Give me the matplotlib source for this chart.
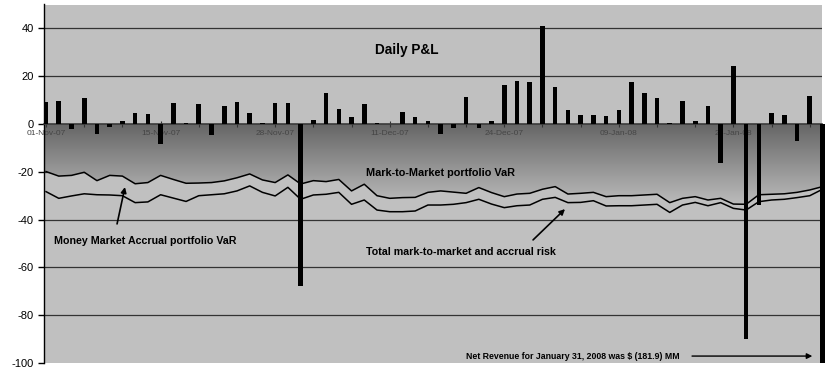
import numpy as np
import matplotlib.pyplot as plt
from matplotlib.patches import Polygon
from matplotlib.transforms import Bbox, TransformedBbox

# daily P&L, $MM, one bar per trading day (01-Nov-07 .. 31-Jan-08)
pnl = [9.1, 9.6, -2.3, 10.8, -4.3, -1.1, 1.1, 4.5, 4.0, -8.5,
       8.8, 0.4, 8.4, -4.7, 7.4, 9.1, 4.5, 0.3, 8.8, 8.8,
       -67.7, 1.7, 12.8, 6.2, 2.8, 8.2, 0.3, 0.2, 5.2, 3.1,
       1.1, -4.0, -1.8, 11.3, -1.8, 1.1, 16.3, 18.2, 17.7, 41.1,
       15.5, 5.7, 3.8, 3.8, 3.4, 5.9, 17.7, 13.0, 10.8, 0.4,
       9.8, 1.1, 7.6, -16.4, 24.3, -90.1, -33.9, 4.5, 3.8, -7.0,
       11.7, -181.9]

# mark-to-market portfolio VaR
mtm_var = [-19.9, -21.8, -21.5, -20.2, -23.7, -21.5, -21.8, -25.0, -24.5, -21.5,
           -23.2, -24.8, -24.7, -24.5, -23.8, -22.5, -20.9, -23.4, -24.5, -21.3,
           -25.1, -23.7, -24.1, -23.2, -28.0, -25.2, -30.0, -31.1, -30.8, -30.7,
           -28.6, -28.0, -28.5, -29.0, -26.6, -28.7, -30.4, -29.3, -29.0, -27.3,
           -26.2, -29.3, -29.0, -28.6, -30.4, -30.0, -30.0, -29.7, -29.4, -32.9,
           -31.1, -30.4, -31.8, -31.1, -33.5, -33.6, -29.6, -29.4, -29.2, -28.6,
           -27.6, -26.2]

# total mark-to-market and accrual risk
total_var = [-28.3, -31.1, -30.1, -29.2, -29.6, -29.7, -30.0, -32.9, -32.6, -29.6,
             -31.0, -32.4, -30.0, -29.6, -29.2, -28.0, -25.9, -28.6, -30.1, -26.5,
             -31.5, -29.7, -29.4, -28.6, -33.6, -31.8, -36.0, -36.7, -36.7, -36.4,
             -33.9, -33.9, -33.6, -32.9, -31.5, -33.5, -35.0, -34.2, -33.9, -31.5,
             -30.7, -32.9, -32.8, -32.1, -34.3, -34.2, -34.2, -33.9, -33.6, -37.0,
             -33.9, -32.8, -34.2, -32.9, -35.3, -36.0, -32.5, -31.8, -31.5, -30.8,
             -30.0, -27.3]

date_labels = ["01-Nov-07", "15-Nov-07", "28-Nov-07", "11-Dec-07",
               "24-Dec-07", "09-Jan-08", "22-Jan-08"]

plt.rcParams['font.family'] = ['Liberation Sans', 'DejaVu Sans']
plt.rcParams['axes.unicode_minus'] = False

fig = plt.figure(figsize=(8.28, 3.69), dpi=100)
ax = fig.add_axes([44 / 828, 6 / 369, 778 / 828, 358.5 / 369])
ax.set_facecolor('#c0c0c0')

x = np.arange(len(pnl))
x0, x1 = -0.16, 60.96

# horizontal gridlines sit under the shaded VaR band
yticks = list(range(-100, 41, 20))
for v in yticks[1:]:
    if v != 0:
        ax.axhline(v, color='#333333', lw=0.9, zorder=0.5)

# shaded band from zero down to the mark-to-market VaR line
verts = [(x0, 0), (x0, mtm_var[0])] + list(zip(x, mtm_var)) + [(x1, mtm_var[-1]), (x1, 0)]
band = Polygon(verts, closed=True, facecolor='none', edgecolor='none')
ax.add_patch(band)
grad = np.linspace(0.40, 0.80, 256).reshape(-1, 1)
img = ax.imshow(grad, cmap='gray', vmin=0, vmax=1, aspect='auto',
                extent=[x0, x1, -40, 0], origin='upper', zorder=1,
                interpolation='bilinear')
img.set_clip_path(band)
ax.set_xlim(x0, x1)
ax.set_ylim(-100, 50)

ax.plot(x, mtm_var, color='black', lw=1.1, zorder=3)
ax.plot(x, total_var, color='black', lw=1.1, zorder=3)

bars = ax.bar(x, pnl, width=0.36, color='black', zorder=4)
clip = TransformedBbox(Bbox([[x0, -100], [62, 50]]), ax.transData)
for b in bars:
    b.set_clip_box(clip)

for side in ['top', 'right']:
    ax.spines[side].set_visible(False)
ax.spines['bottom'].set_position(('data', 0))
ax.spines['bottom'].set_color('#3a3a3a')
ax.spines['bottom'].set_linewidth(1.2)
ax.spines['left'].set_color('black')
ax.spines['left'].set_linewidth(1.0)

ax.set_yticks(yticks)
ax.tick_params(axis='y', direction='out', length=4, width=1, labelsize=8,
               colors='black')
ax.set_xticks(x[::9], labels=date_labels)
ax.set_xticks(x[::3], minor=True)
ax.tick_params(axis='x', which='both', direction='inout', length=5, width=0.8,
               color='#333333', labelsize=6, labelcolor='#454545', pad=2)

# annotations
bold = dict(fontweight='bold', va='center', zorder=5)
ax.text(28.3, 31.0, "Daily P&L", fontsize=9.8, ha='center', **bold)
ax.text(30.95, -20.5, "Mark-to-Market portfolio VaR", fontsize=7.8, ha='center', **bold)
ax.text(7.78, -49.0, "Money Market Accrual portfolio VaR", fontsize=7.7, ha='center', **bold)
ax.text(32.6, -53.6, "Total mark-to-market and accrual risk", fontsize=7.7,
        ha='center', **bold)
ax.text(49.8, -97.3, "Net Revenue for January 31, 2008 was $ (181.9) MM",
        fontsize=6.3, ha='right', **bold)

arrow = dict(arrowstyle='-|>', color='black', lw=1.2, mutation_scale=8,
             shrinkA=0, shrinkB=0)
ax.annotate('', xy=(6.2, -26.4), xytext=(5.58, -41.8), arrowprops=arrow, zorder=5)
ax.annotate('', xy=(40.77, -35.6), xytext=(38.26, -48.5), arrowprops=arrow, zorder=5)
ax.annotate('', xy=(60.2, -97.1), xytext=(50.75, -97.1),
            arrowprops=dict(arrow, lw=1.0), zorder=5)

fig.savefig('out.png', dpi=100, facecolor='white')
